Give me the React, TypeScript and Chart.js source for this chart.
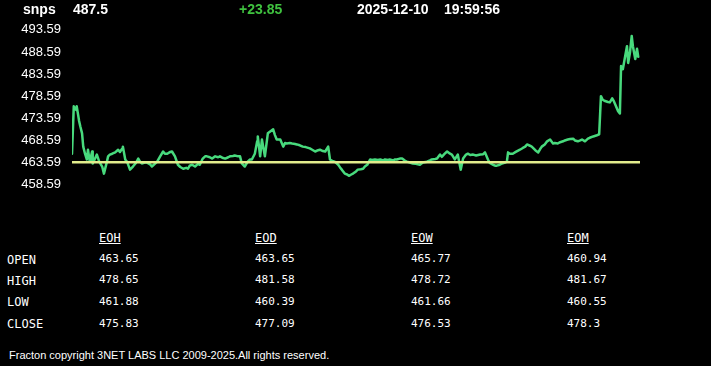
import React, { useEffect, useRef } from "react";
import { Chart, registerables } from "chart.js";

Chart.register(...registerables);

// ---- header ----
const SYMBOL = "snps";
const LAST_PRICE = "487.5";
const CHANGE = "+23.85";
const QUOTE_DATE = "2025-12-10";
const QUOTE_TIME = "19:59:56";

// ---- price chart data ----
const PREV_CLOSE = 463.65;
const SESSION_MINUTES = 960; // 04:00 -> 20:00
const Y_MIN = 455.59;
const Y_MAX = 495.59;
const yTickValues = [458.59, 463.59, 468.59, 473.59, 478.59, 483.59, 488.59, 493.59];

// minutes after 04:00
const times = [
  0, 3, 7, 8, 12, 14, 17, 19, 22, 25,
  27, 30, 34, 35, 39, 42, 46, 51, 54, 59,
  61, 64, 68, 73, 78, 81, 85, 86, 90, 93,
  98, 103, 108, 112, 115, 118, 123, 127, 132, 135,
  140, 144, 149, 154, 157, 161, 166, 169, 174, 179,
  183, 188, 193, 196, 199, 203, 208, 213, 216, 221,
  225, 228, 233, 237, 242, 247, 250, 254, 259, 264,
  267, 272, 275, 281, 284, 287, 292, 297, 301, 304,
  309, 313, 314, 318, 321, 326, 331, 335, 340, 343,
  346, 352, 357, 360, 363, 368, 372, 377, 380, 385,
  390, 395, 402, 406, 411, 416, 419, 424, 428, 433,
  436, 441, 444, 450, 453, 456, 461, 465, 468, 472,
  475, 480, 483, 488, 492, 495, 499, 504, 507, 512,
  517, 521, 526, 529, 534, 537, 543, 546, 549, 554,
  558, 563, 566, 571, 576, 581, 588, 593, 600, 605,
  608, 614, 617, 622, 625, 630, 634, 639, 642, 647,
  652, 657, 661, 666, 669, 673, 678, 683, 690, 695,
  698, 703, 706, 712, 715, 718, 723, 727, 732, 735,
  737, 740, 745, 750, 754, 757, 762, 766, 769, 774,
  777, 783, 788, 791, 794, 799, 803, 808, 813, 816,
  821, 825, 830, 833, 838, 842, 847, 850, 855, 859,
  862, 867, 872, 875, 881, 886, 891, 894, 897,
  901, 906, 909, 913, 916, 918, 923, 926, 928, 930,
  931, 935, 938, 940, 943, 946, 948, 952, 955, 957,
];

const prices = [
  465.6, 476.3, 475.5, 476.3, 473.0, 471.8, 470.2, 467.2, 465.6, 464.3,
  466.5, 463.8, 466.1, 463.4, 464.5, 465.4, 463.8, 462.7, 461.1, 463.8,
  465.0, 465.4, 465.6, 465.9, 466.5, 466.0, 466.8, 467.2, 464.3, 463.8,
  462.0, 462.7, 463.5, 464.5, 463.8, 463.4, 463.6, 463.6, 463.2, 462.7,
  463.3, 463.8, 465.0, 466.1, 465.6, 465.6, 466.0, 466.1, 465.0, 463.1,
  462.6, 462.2, 462.4, 462.2, 462.9, 463.1, 462.7, 463.3, 463.1, 464.5,
  465.0, 465.0, 464.8, 464.5, 465.0, 464.8, 465.0, 464.7, 464.5, 464.8,
  465.0, 465.1, 465.2, 465.0, 465.0, 463.4, 462.7, 463.8, 464.3, 464.3,
  465.6, 468.4, 469.5, 465.0, 468.8, 465.0, 470.2, 470.6, 471.1, 469.8,
  468.8, 468.8, 467.2, 468.0, 467.9, 468.0, 467.9, 467.8, 467.7, 467.5,
  467.2, 467.1, 466.8, 466.5, 466.1, 466.4, 466.5, 466.2, 466.1, 467.2,
  464.3, 463.9, 463.8, 463.1, 462.5, 462.0, 461.1, 460.9, 460.6, 460.9,
  461.1, 461.6, 462.0, 462.1, 462.2, 462.7, 463.1, 464.3, 464.2, 464.3,
  464.2, 464.3, 464.1, 464.3, 464.2, 464.3, 464.1, 464.3, 464.3, 464.5,
  464.5, 464.0, 463.8, 463.6, 463.4, 463.3, 463.1, 463.6, 463.8, 464.1,
  464.3, 464.4, 464.5, 465.4, 464.9, 465.6, 466.1, 465.6, 465.4, 464.3,
  465.4, 462.0, 464.5, 465.4, 465.6, 465.3, 465.4, 465.2, 465.4, 465.5,
  465.9, 464.3, 463.5, 463.1, 462.9, 462.9, 463.1, 463.4, 463.6, 463.8,
  465.9, 465.6, 465.6, 466.0, 466.3, 466.5, 466.9, 467.2, 467.7, 467.4,
  467.2, 466.4, 465.9, 466.6, 467.2, 467.7, 468.4, 468.8, 467.9, 468.0,
  467.9, 468.2, 468.4, 468.6, 468.8, 468.9, 469.0, 468.6, 468.4, 468.6,
  468.8, 468.4, 469.0, 469.2, 469.5, 469.7, 470.0, 478.6, 477.8,
  477.5, 477.3, 477.2, 478.1, 477.4, 476.8, 475.2, 474.7, 485.4, 485.0,
  484.7, 487.7, 489.9, 486.1, 488.4, 492.2, 489.9, 487.0, 489.3, 487.5,
];

// ---- summary table ----
const periods = ["EOH", "EOD", "EOW", "EOM"];
const rowNames = ["OPEN", "HIGH", "LOW", "CLOSE"];
const eohValues = ["463.65", "478.65", "461.88", "475.83"];
const eodValues = ["463.65", "481.58", "460.39", "477.09"];
const eowValues = ["465.77", "478.72", "461.66", "476.53"];
const eomValues = ["460.94", "481.67", "460.55", "478.3"];
const tableColumns = [eohValues, eodValues, eowValues, eomValues];

const FOOTER = "Fracton copyright 3NET LABS LLC 2009-2025.All rights reserved.";

const GREEN_LINE = "#48da7d";
const YELLOW_LINE = "#e2ec8c";
const GREEN_TEXT = "#3fc23f";
const SANS = "'Liberation Sans', Arial, Helvetica, sans-serif";
const MONO = "'DejaVu Sans Mono', 'Liberation Mono', monospace";

export default function App() {
  const canvasRef = useRef<HTMLCanvasElement | null>(null);

  useEffect(() => {
    const canvas = canvasRef.current;
    if (!canvas) return;
    const chart = new Chart(canvas, {
      type: "line",
      data: {
        datasets: [
          {
            data: [
              { x: 0, y: PREV_CLOSE },
              { x: SESSION_MINUTES, y: PREV_CLOSE },
            ],
            borderColor: YELLOW_LINE,
            borderWidth: 2.5,
            pointRadius: 0,
            tension: 0,
          },
          {
            data: times.map((t, i) => ({ x: t, y: prices[i] })),
            borderColor: GREEN_LINE,
            borderWidth: 2.5,
            borderJoinStyle: "round",
            borderCapStyle: "round",
            pointRadius: 0,
            tension: 0,
          },
        ],
      },
      options: {
        responsive: false,
        animation: false,
        devicePixelRatio: 1,
        layout: { padding: { top: 21, bottom: 20, left: 0, right: 71 } },
        plugins: {
          legend: { display: false },
          tooltip: { enabled: false },
        },
        scales: {
          x: { type: "linear", min: 0, max: SESSION_MINUTES, display: false },
          y: {
            min: Y_MIN,
            max: Y_MAX,
            grid: { display: false, drawTicks: false },
            border: { display: false },
            afterBuildTicks: (scale: any) => {
              scale.ticks = yTickValues.map((v) => ({ value: v }));
            },
            afterFit: (scale: any) => {
              scale.width = 72;
            },
            ticks: {
              color: "#ffffff",
              padding: 11,
              font: { family: SANS, size: 13 },
              callback: (v: any) => Number(v).toFixed(2),
            },
          },
        },
      },
    });
    return () => chart.destroy();
  }, []);

  const headerStyle: React.CSSProperties = {
    position: "absolute",
    top: 1,
    fontFamily: SANS,
    fontWeight: "bold",
    fontSize: 14,
    lineHeight: "16px",
    color: "#ffffff",
    whiteSpace: "nowrap",
  };

  const colX = [99, 255, 411, 567];
  const rowTopsLabel = [253, 274, 295, 317];
  const rowTopsValue = [251.5, 273, 294.7, 316.7];

  return (
    <div
      style={{
        position: "fixed",
        left: 0,
        top: 0,
        width: 711,
        height: 366,
        background: "#000000",
        overflow: "hidden",
      }}
    >
      <canvas
        ref={canvasRef}
        width={711}
        height={218}
        style={{ position: "absolute", left: 0, top: 0, width: 711, height: 218 }}
      />
      <div style={{ ...headerStyle, left: 23 }}>{SYMBOL}</div>
      <div style={{ ...headerStyle, left: 73 }}>{LAST_PRICE}</div>
      <div style={{ ...headerStyle, left: 239, color: GREEN_TEXT }}>{CHANGE}</div>
      <div style={{ ...headerStyle, left: 357 }}>{QUOTE_DATE}</div>
      <div style={{ ...headerStyle, left: 444 }}>{QUOTE_TIME}</div>

      {periods.map((p, i) => (
        <div
          key={p}
          style={{
            position: "absolute",
            left: colX[i],
            top: 231,
            fontFamily: MONO,
            fontSize: 12,
            lineHeight: "14px",
            color: "#ffffff",
            textDecoration: "underline",
            whiteSpace: "nowrap",
          }}
        >
          {p}
        </div>
      ))}
      {rowNames.map((r, ri) => (
        <div
          key={r}
          style={{
            position: "absolute",
            left: 7,
            top: rowTopsLabel[ri],
            fontFamily: MONO,
            fontSize: 12,
            lineHeight: "14px",
            color: "#ffffff",
            whiteSpace: "nowrap",
          }}
        >
          {r}
        </div>
      ))}
      {tableColumns.map((col, ci) =>
        col.map((v, ri) => (
          <div
            key={ci + "-" + ri}
            style={{
              position: "absolute",
              left: colX[ci],
              top: rowTopsValue[ri],
              fontFamily: MONO,
              fontSize: 11,
              lineHeight: "14px",
              color: "#ffffff",
              whiteSpace: "nowrap",
            }}
          >
            {v}
          </div>
        ))
      )}
      <div
        style={{
          position: "absolute",
          left: 9,
          top: 348.7,
          fontFamily: SANS,
          fontSize: 11,
          lineHeight: "13px",
          color: "#ffffff",
          whiteSpace: "nowrap",
        }}
      >
        {FOOTER}
      </div>
    </div>
  );
}
